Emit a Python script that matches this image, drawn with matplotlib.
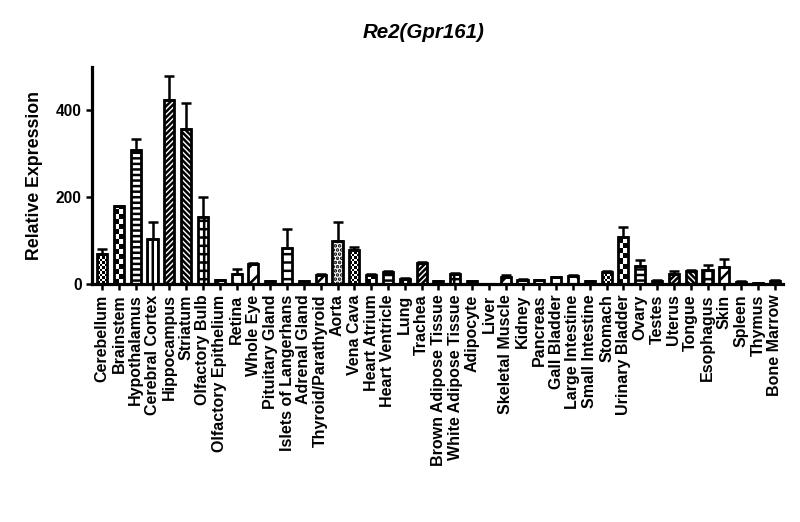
import numpy as np
import matplotlib
matplotlib.use('Agg')
import matplotlib.pyplot as plt

plt.rcParams['font.family'] = ['Liberation Sans', 'DejaVu Sans']
plt.rcParams['hatch.linewidth'] = 1.8

tissues = ['Cerebellum', 'Brainstem', 'Hypothalamus', 'Cerebral Cortex', 'Hippocampus',
           'Striatum', 'Olfactory Bulb', 'Olfactory Epithelium', 'Retina', 'Whole Eye',
           'Pituitary Gland', 'Islets of Langerhans', 'Adrenal Gland', 'Thyroid/Parathyroid',
           'Aorta', 'Vena Cava', 'Heart Atrium', 'Heart Ventricle', 'Lung', 'Trachea',
           'Brown Adipose Tissue', 'White Adipose Tissue', 'Adipocyte', 'Liver',
           'Skeletal Muscle', 'Kidney', 'Pancreas', 'Gall Bladder', 'Large Intestine',
           'Small Intestine', 'Stomach', 'Urinary Bladder', 'Ovary', 'Testes', 'Uterus',
           'Tongue', 'Esophagus', 'Skin', 'Spleen', 'Thymus', 'Bone Marrow']
expr = [68, 179, 308, 104, 423, 357, 155, 9, 22, 47,
        6, 83, 6, 20, 100, 78, 20, 27, 12, 48,
        6, 22, 6, 1, 17, 10, 9, 15, 18, 6,
        28, 108, 42, 7, 22, 30, 33, 40, 5, 2, 7]
sem = [13, 1, 25, 38, 55, 60, 46, 0, 12, 1,
       0, 44, 0, 4, 42, 6, 2, 3, 1, 2,
       1, 3, 1, 0, 3, 1, 1, 2, 3, 1,
       3, 24, 13, 1, 9, 2, 11, 17, 1, 0, 2]

# Prism-like fill pattern cycle (15 patterns)
patterns = ['chk_s', 'chk_b', '---', '|||', '//////', '\\\\\\\\\\\\', '++', '//',
            '\\\\', '//', '', '--', '', 'x', '....']

fig = plt.figure(figsize=(8, 5.22), dpi=100)
ax = fig.add_axes([0.115, 0.456, 0.864, 0.416])

x = np.arange(len(tissues))
w = 0.6
ax.set_xlim(-0.6, len(tissues) - 0.5)
ax.set_ylim(0, 500)
px_x = 0.864 * 800 / (len(tissues) - 0.5 + 0.6)
px_y = 0.416 * 522 / 500

bars = ax.bar(x, expr, width=w, color='white', edgecolor='black', linewidth=2.0, zorder=2)
for i, b in enumerate(bars):
    p = patterns[i % len(patterns)]
    if p.startswith('chk'):
        cell = 2.5 if p == 'chk_s' else 5.0
        nx = max(1, int(round(w * px_x / cell)))
        ny = max(1, int(round(expr[i] * px_y / cell)))
        grid = (np.add.outer(np.arange(ny), np.arange(nx)) % 2).astype(float)
        im = ax.imshow(grid, cmap='gray', extent=(x[i] - w / 2, x[i] + w / 2, 0, ny * cell / px_y),
                       origin='lower', interpolation='nearest', aspect='auto', zorder=1.5)
        im.set_clip_path(b)
        b.set_facecolor('none')
    else:
        b.set_hatch(p)

ax.errorbar(x, expr, yerr=[np.zeros(len(sem)), sem], fmt='none', ecolor='black',
            elinewidth=1.8, capsize=3.5, capthick=1.8, zorder=3)

ax.spines['top'].set_visible(False)
ax.spines['right'].set_visible(False)
ax.spines['left'].set_linewidth(2.3)
ax.spines['bottom'].set_linewidth(2.3)
ax.set_yticks([0, 200, 400])
ax.set_xticks(x)
ax.set_xticklabels(tissues, rotation=90, fontsize=11.5, fontweight='bold')
ax.tick_params(axis='both', width=1.8, length=4, direction='out')
for t in ax.get_yticklabels():
    t.set_fontweight('bold')
    t.set_fontsize(11.2)
ax.set_ylabel('Relative Expression', fontsize=12.8, fontweight='bold', labelpad=9)
fig.text(0.53, 0.938, 'Re2(Gpr161)', fontsize=14.8, fontweight='bold', style='italic',
         ha='center', va='center')

fig.savefig('out.png', dpi=100)
